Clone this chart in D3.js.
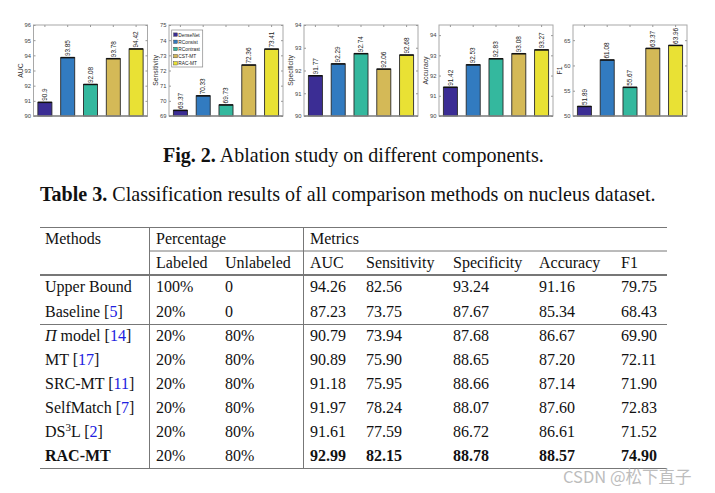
<!DOCTYPE html>
<html><head><meta charset="utf-8">
<script src="https://cdn.jsdelivr.net/npm/d3@7"></script>
<style>body{margin:0;background:#fff} svg{display:block}</style>
</head><body>
<svg id="c" width="715" height="493"></svg>
<script>
// ---------- Ablation bar charts data ----------
const ablMethods = ["DenseNet","RConsist","RContrast","CST-MT","RAC-MT"];
const ablColors = ["#3b2d94","#327bc0","#34b89e","#d4b957","#e9e134"];
const metricNames = ["AUC","Sensitivity","Specificity","Accuracy","F1"];
const aucAbl  = [90.9, 93.85, 92.08, 93.78, 94.42];
const sensAbl = [69.37, 70.33, 69.73, 72.36, 73.41];
const specAbl = [91.77, 92.29, 92.74, 92.06, 92.68];
const accAbl  = [91.42, 92.53, 92.83, 93.08, 93.27];
const f1Abl   = [51.89, 61.08, 55.67, 63.37, 63.96];
const ablSeries = [aucAbl, sensAbl, specAbl, accAbl, f1Abl];
const yDomains = [[90,96],[69,75],[90,94],[90,94.5],[50,68]];
const yTickVals = [[90,91,92,93,94,95,96],[69,70,71,72,73,74,75],[90,91,92,93,94],[90,91,92,93,94],[50,55,60,65]];

// ---------- Table data ----------
const tblMethods = ["Upper Bound","Baseline","\u03A0 model","MT","SRC-MT","SelfMatch","DS3L","RAC-MT"];
const tblRefs = [null,"5","14","17","11","7","2",null];
const tblLabeled = ["100%","20%","20%","20%","20%","20%","20%","20%"];
const tblUnlabeled = ["0","0","80%","80%","80%","80%","80%","80%"];
const tblAUC  = ["94.26","87.23","90.79","90.89","91.18","91.97","91.61","92.99"];
const tblSens = ["82.56","73.75","73.94","75.90","75.95","78.24","77.59","82.15"];
const tblSpec = ["93.24","87.67","87.68","88.65","88.66","88.07","86.72","88.78"];
const tblAcc  = ["91.16","85.34","86.67","87.20","87.14","87.60","86.61","88.57"];
const tblF1   = ["79.75","68.43","69.90","72.11","71.90","72.83","71.52","74.90"];
const metricCols = [tblAUC, tblSens, tblSpec, tblAcc, tblF1];

const svg = d3.select("#c");
const sans = "Liberation Sans, Arial, sans-serif";
const serif = "Liberation Serif, Times New Roman, serif";

// ---------- draw panels ----------
const panelLefts = [33.5,169,304,439,573];
const pW = 114, pTop = 25, pBot = 116;
ablSeries.forEach((vals, pi) => {
  const L = panelLefts[pi], R = L + pW;
  const g = svg.append("g");
  const x = d3.scaleBand().domain(ablMethods).range([L, R]).paddingInner(0.385).paddingOuter(0.1925);
  const y = d3.scaleLinear().domain(yDomains[pi]).range([pBot, pTop]);
  // box
  g.append("rect").attr("x", L).attr("y", pTop).attr("width", pW).attr("height", pBot - pTop)
    .attr("fill", "none").attr("stroke", "#a8a8a8").attr("stroke-width", 1);
  // y axis ticks + labels
  const ya = d3.axisLeft(y).tickValues(yTickVals[pi]).tickFormat(d3.format("d"))
    .tickSizeInner(-2).tickSizeOuter(0).tickPadding(2.5);
  const yg = g.append("g").attr("transform", `translate(${L},0)`).call(ya);
  yg.select(".domain").remove();
  yg.selectAll("line").attr("stroke", "#999");
  yg.selectAll("text").attr("font-family", sans).attr("font-size", 5.8).attr("fill", "#444");
  const yr = d3.axisRight(y).tickValues(yTickVals[pi]).tickSizeInner(-2).tickSizeOuter(0).tickFormat("");
  const yrg = g.append("g").attr("transform", `translate(${R},0)`).call(yr);
  yrg.select(".domain").remove();
  yrg.selectAll("line").attr("stroke", "#999");
  // x ticks top
  g.selectAll(".xt").data(ablMethods).enter().append("line")
    .attr("x1", d => x(d) + x.bandwidth()/2).attr("x2", d => x(d) + x.bandwidth()/2)
    .attr("y1", pTop).attr("y2", pTop + 2).attr("stroke", "#999");
  // bars
  g.selectAll(".bar").data(vals).enter().append("rect")
    .attr("x", (d,i) => x(ablMethods[i])).attr("width", x.bandwidth())
    .attr("y", d => y(d)).attr("height", d => pBot - y(d))
    .attr("fill", (d,i) => ablColors[i]).attr("stroke", "#2a2a2a").attr("stroke-width", 0.9);
  g.selectAll(".bartop").data(vals).enter().append("line")
    .attr("x1", (d,i) => x(ablMethods[i])).attr("x2", (d,i) => x(ablMethods[i]) + x.bandwidth())
    .attr("y1", d => y(d)).attr("y2", d => y(d)).attr("stroke", "#111").attr("stroke-width", 1.5);
  // bottom axis line
  g.append("line").attr("x1", L).attr("x2", R).attr("y1", pBot).attr("y2", pBot)
    .attr("stroke", "#888").attr("stroke-width", 1.6);
  // value labels
  g.selectAll(".vl").data(vals).enter().append("text")
    .attr("transform", (d,i) => `translate(${x(ablMethods[i]) + x.bandwidth()/2 + 2.2},${y(d) - 1.5}) rotate(-90)`)
    .attr("font-family", sans).attr("font-size", 6.4).attr("fill", "#222")
    .text(d => String(d));
  // y label
  g.append("text").attr("transform", `translate(${L - 11},${(pTop + pBot)/2}) rotate(-90)`)
    .attr("text-anchor", "middle").attr("font-family", sans).attr("font-size", 6.8).attr("fill", "#333")
    .text(metricNames[pi]);
  // legend in panel 2
  if (pi === 1) {
    const lg = g.append("g");
    lg.append("rect").attr("x", 171.7).attr("y", 30).attr("width", 31).attr("height", 37)
      .attr("fill", "#fff").attr("stroke", "#888").attr("stroke-width", 0.7);
    const ly = d3.scalePoint().domain(ablMethods).range([34.7, 63.4]);
    ablMethods.forEach((m, i) => {
      lg.append("rect").attr("x", 173.6).attr("y", ly(m) - 1.8).attr("width", 3.8).attr("height", 3.4)
        .attr("fill", ablColors[i]).attr("stroke", "#333").attr("stroke-width", 0.4);
      lg.append("text").attr("x", 178.3).attr("y", ly(m) + 1.8).attr("font-family", sans)
        .attr("font-size", 4.8).attr("fill", "#222").text(m);
    });
  }
});

// ---------- captions ----------
function fitText(sel, targetW) {
  const w = sel.node().getBBox().width;
  const fs = parseFloat(sel.attr("font-size"));
  sel.attr("font-size", fs * targetW / w);
}
const cap1 = svg.append("text").attr("x", 163).attr("y", 162).attr("font-family", serif).attr("font-size", 16).attr("fill", "#111");
cap1.append("tspan").attr("font-weight", "bold").text("Fig. 2.");
cap1.append("tspan").text(" Ablation study on different components.");
fitText(cap1, 381);
const cap2 = svg.append("text").attr("x", 40).attr("y", 201).attr("font-family", serif).attr("font-size", 16).attr("fill", "#111");
cap2.append("tspan").attr("font-weight", "bold").text("Table 3.");
cap2.append("tspan").text(" Classification results of all comparison methods on nucleus dataset.");
fitText(cap2, 616);

// ---------- table ----------
const tg = svg.append("g").attr("font-family", serif).attr("font-size", 16).attr("fill", "#111");
const ruleC = "#777";
const hline = (x1, x2, yy, w) => tg.append("line").attr("x1", x1).attr("x2", x2).attr("y1", yy).attr("y2", yy).attr("stroke", ruleC).attr("stroke-width", w);
hline(40, 667, 227.5, 1);
hline(149.5, 667, 251, 1);
hline(40, 667, 275, 1.8);
hline(40, 667, 324.5, 1);
hline(40, 667, 468.5, 1);
[149.5, 303.5].forEach(xx => tg.append("line").attr("x1", xx).attr("x2", xx).attr("y1", 227.5).attr("y2", 468.5).attr("stroke", ruleC).attr("stroke-width", 1));

const colX = {method: 45, lab: 156, unlab: 225, m: [310, 366, 453, 539, 621]};
tg.append("text").attr("x", colX.method).attr("y", 244).text("Methods");
tg.append("text").attr("x", colX.lab).attr("y", 244).text("Percentage");
tg.append("text").attr("x", colX.m[0]).attr("y", 244).text("Metrics");
tg.append("text").attr("x", colX.lab).attr("y", 268).text("Labeled");
tg.append("text").attr("x", colX.unlab).attr("y", 268).text("Unlabeled");
metricNames.forEach((m, i) => tg.append("text").attr("x", colX.m[i]).attr("y", 268).text(m));

const rowBase = [292, 316.5, 341, 365, 389, 413, 437, 461];
tblMethods.forEach((m, i) => {
  const yy = rowBase[i];
  const bold = i === tblMethods.length - 1;
  const t = tg.append("text").attr("x", colX.method).attr("y", yy).attr("font-weight", bold ? "bold" : null);
  if (m === "\u03A0 model") {
    t.append("tspan").attr("font-style", "italic").text("\u03A0");
    t.append("tspan").text(" model");
  } else if (m === "DS3L") {
    t.append("tspan").text("DS");
    t.append("tspan").attr("font-size", 11).attr("dy", -6).text("3");
    t.append("tspan").attr("dy", 6).text("L");
  } else {
    t.append("tspan").text(m);
  }
  if (tblRefs[i]) {
    t.append("tspan").text(" [");
    t.append("tspan").attr("fill", "#2020e0").text(tblRefs[i]);
    t.append("tspan").text("]");
  }
  tg.append("text").attr("x", colX.lab).attr("y", yy).text(tblLabeled[i]);
  tg.append("text").attr("x", colX.unlab).attr("y", yy).text(tblUnlabeled[i]);
  metricCols.forEach((col, j) => {
    tg.append("text").attr("x", colX.m[j]).attr("y", yy).attr("font-weight", bold ? "bold" : null).text(col[i]);
  });
});

// watermark
svg.append("text").attr("x", 563).attr("y", 483).attr("font-family", "Noto Sans CJK SC, sans-serif")
  .attr("font-size", 16.5).attr("fill", "#bdbdbd").text("CSDN @松下直子");
</script>
</body></html>
